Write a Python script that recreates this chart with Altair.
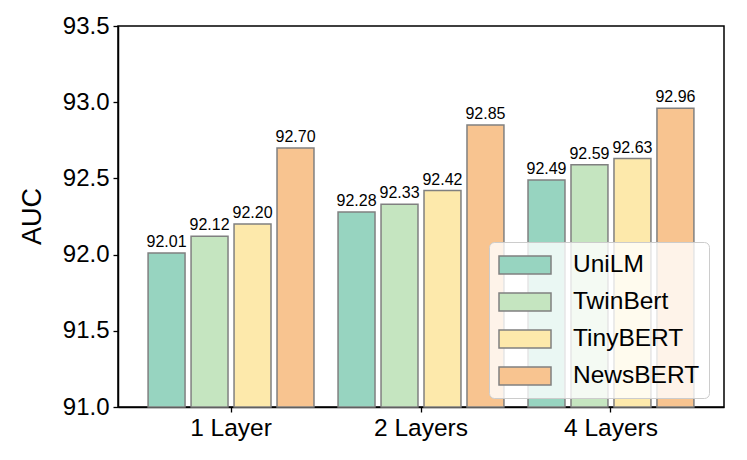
import altair as alt
import pandas as pd

groups = ["1 Layer", "2 Layers", "4 Layers"]
models = ["UniLM", "TwinBert", "TinyBERT", "NewsBERT"]
unilm = [92.01, 92.28, 92.49]
twinbert = [92.12, 92.33, 92.59]
tinybert = [92.20, 92.42, 92.63]
newsbert = [92.70, 92.85, 92.96]
colors = ["#97d4c0", "#c5e5c0", "#fde9ab", "#f8c490"]
y_ticks = [91.0, 91.5, 92.0, 92.5, 93.0, 93.5]

series = {"UniLM": unilm, "TwinBert": twinbert, "TinyBERT": tinybert, "NewsBERT": newsbert}
rows = []
for m in models:
    for g, v in zip(groups, series[m]):
        rows.append({"group": g, "model": m, "value": v})
df = pd.DataFrame(rows)

FONT = "Liberation Sans"

x_enc = alt.X("group:N", sort=groups, title=None,
              scale=alt.Scale(paddingInner=0, paddingOuter=0.095),
              axis=alt.Axis(labelAngle=0, labelFontSize=24.5, tickSize=5, labelPadding=4,
                            domainColor="black", tickColor="black", domainWidth=1.5, tickWidth=1.3))
xo_enc = alt.XOffset("model:N", sort=models,
                     scale=alt.Scale(paddingInner=0.14, paddingOuter=0.28))
y_enc = alt.Y("value:Q", title="AUC",
              scale=alt.Scale(domain=[91.0, 93.5], zero=False, nice=False),
              axis=alt.Axis(values=y_ticks, format=".1f", labelFontSize=24, tickSize=5,
                            titleFontSize=27, titleFontWeight="normal", titleX=-72, titleY=190,
                            labelPadding=4, grid=False,
                            domainColor="black", tickColor="black", domainWidth=1.5, tickWidth=1.3))

bars = alt.Chart(df).mark_bar(stroke="#808080", strokeWidth=1.5).encode(
    x=x_enc,
    xOffset=xo_enc,
    y=y_enc,
    y2=alt.datum(91.0),
    color=alt.Color("model:N", sort=models,
                    scale=alt.Scale(domain=models, range=colors),
                    legend=alt.Legend(title=None, orient="none", legendX=371, legendY=216,
                                      symbolType="M-1,-0.7H3V0.7H-1Z", symbolSize=676,
                                      symbolStrokeColor="#808080", symbolStrokeWidth=1.5,
                                      symbolOpacity=1,
                                      labelFontSize=24.5, labelFont=FONT, labelOffset=47,
                                      rowPadding=10, padding=9,
                                      fillColor="rgba(255,255,255,0.8)",
                                      strokeColor="#cccccc", cornerRadius=5)),
)

labels = alt.Chart(df).mark_text(baseline="alphabetic", dy=-6, fontSize=16, font=FONT,
                                 color="black").encode(
    x=alt.X("group:N", sort=groups),
    xOffset=alt.XOffset("model:N", sort=models),
    y=alt.Y("value:Q"),
    text=alt.Text("value:Q", format=".2f"),
)

chart = alt.layer(bars, labels).properties(
    width=606, height=381,
    autosize=alt.AutoSizeParams(type="none"),
    padding={"left": 110, "top": 18, "right": 15, "bottom": 40},
    view=alt.ViewBackground(stroke="black", strokeWidth=1.5),
).configure_axis(
    labelFont=FONT, titleFont=FONT, labelColor="black", titleColor="black", grid=False
).configure(background="white")

chart.save("out.html", embed_options={"renderer": "svg", "actions": False})
